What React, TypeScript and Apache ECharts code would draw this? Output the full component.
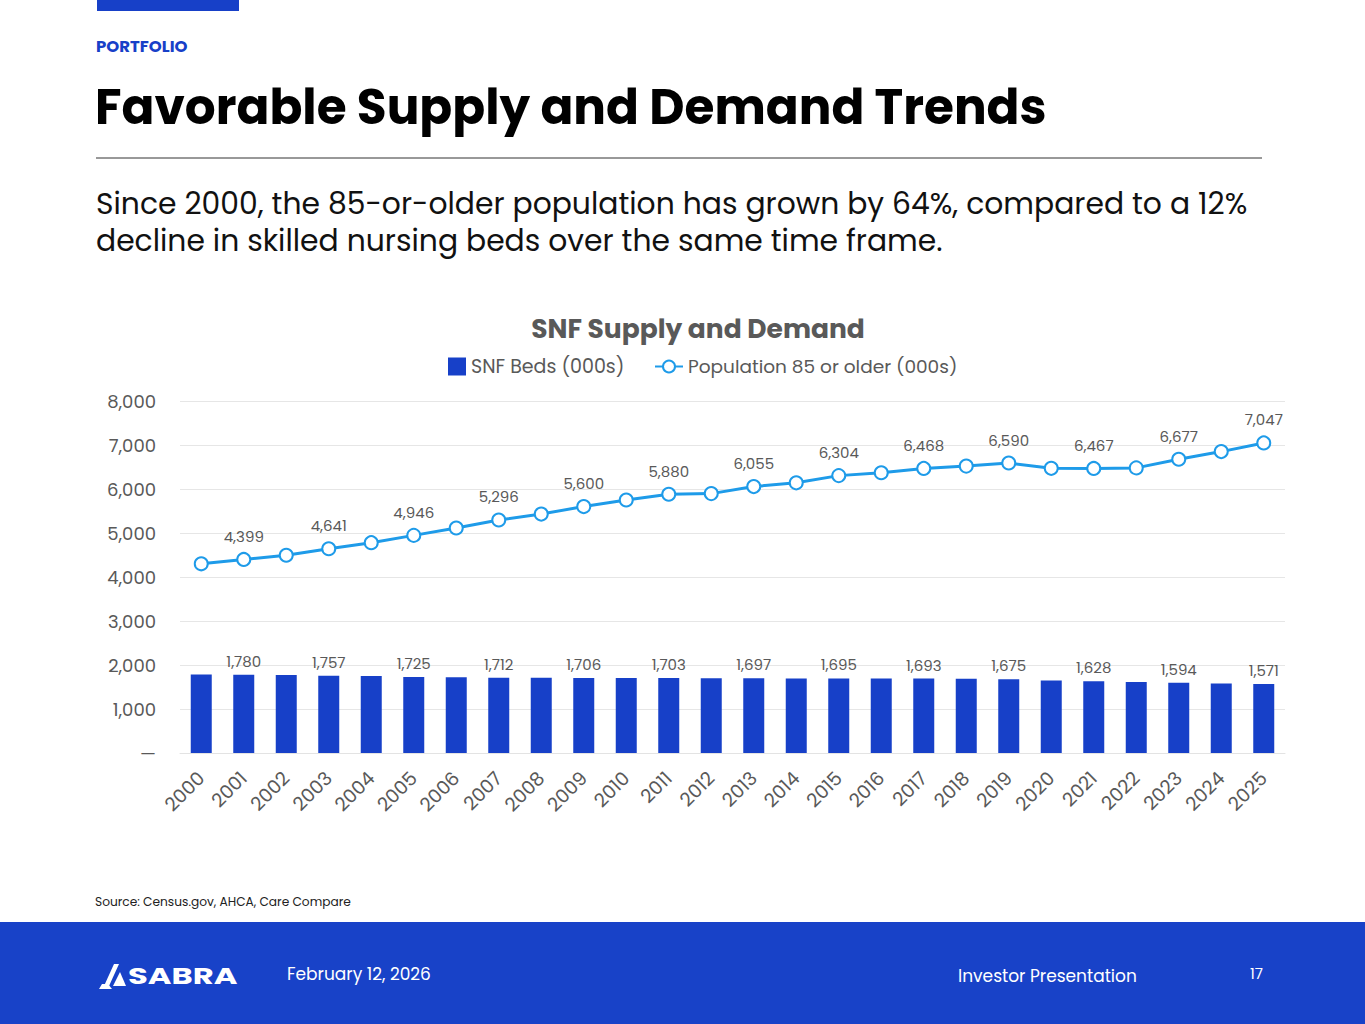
import React, { useEffect, useRef } from "react";
import * as echarts from "echarts";

const years = [
  "2000", "2001", "2002", "2003", "2004", "2005", "2006", "2007", "2008", "2009",
  "2010", "2011", "2012", "2013", "2014", "2015", "2016", "2017", "2018", "2019",
  "2020", "2021", "2022", "2023", "2024", "2025",
];
const snfBeds = [
  1785, 1780, 1775, 1757, 1750, 1725, 1720, 1712, 1710, 1706,
  1705, 1703, 1700, 1697, 1696, 1695, 1694, 1693, 1685, 1675,
  1650, 1628, 1615, 1594, 1580, 1571,
];
const population85 = [
  4300, 4399, 4495, 4641, 4780, 4946, 5114, 5296, 5430, 5600,
  5750, 5880, 5895, 6055, 6140, 6304, 6370, 6468, 6520, 6590,
  6470, 6467, 6480, 6677, 6850, 7047,
];
const yTicks = [0, 1000, 2000, 3000, 4000, 5000, 6000, 7000, 8000];

const FONT = "Poppins, Inter, 'Open Sans', sans-serif";
const BLUE = "#1740c8";
const LINE_BLUE = "#1e9be9";
const GREY = "#595959";

const fmt = (v: number) => v.toLocaleString("en-US");

export default function App() {
  const ref = useRef<HTMLDivElement>(null);
  useEffect(() => {
    if (!ref.current) return;
    const chart = echarts.init(ref.current, undefined, { renderer: "svg" });
    const option: any = {
      animation: false,
      backgroundColor: "#ffffff",
      textStyle: { fontFamily: FONT },
      title: {
        text: "SNF Supply and Demand",
        left: 693,
        top: 310,
        textAlign: "center",
        textStyle: { fontFamily: FONT, fontSize: 26.5, fontWeight: "bold", color: GREY },
      },
      legend: [
        {
          data: [{ name: "SNF Beds (000s)", icon: "rect" }],
          left: 443,
          top: 352,
          itemWidth: 18,
          itemHeight: 18,
          itemGap: 10,
          textStyle: { fontFamily: FONT, fontSize: 19, color: GREY },
        },
        {
          data: [{ name: "Population 85 or older (000s)" }],
          left: 649,
          top: 352,
          itemWidth: 28,
          itemHeight: 15,
          itemGap: 8,
          textStyle: { fontFamily: FONT, fontSize: 18.5, color: GREY },
        },
      ],
      grid: { left: 180, right: 80, top: 401, bottom: 271, containLabel: false },
      xAxis: {
        type: "category",
        data: years,
        axisLine: { show: true, lineStyle: { color: "#e3e3e3", width: 1 } },
        axisTick: { show: false },
        axisLabel: {
          rotate: 45,
          interval: 0,
          margin: 22,
          fontFamily: FONT,
          fontSize: 19,
          color: GREY,
        },
      },
      yAxis: {
        type: "value",
        min: yTicks[0],
        max: yTicks[yTicks.length - 1],
        interval: 1000,
        axisLine: { show: false },
        axisTick: { show: false },
        splitLine: { lineStyle: { color: "#e6e6e6", width: 1 } },
        axisLabel: {
          margin: 24,
          fontFamily: FONT,
          fontSize: 18,
          color: GREY,
          formatter: (v: number) => (v === 0 ? "—" : fmt(v)),
        },
      },
      series: [
        {
          name: "SNF Beds (000s)",
          type: "bar",
          data: snfBeds,
          barWidth: 21,
          itemStyle: { color: BLUE },
          label: {
            show: true,
            position: "top",
            distance: 6,
            fontFamily: FONT,
            fontSize: 15,
            color: GREY,
            formatter: (p: any) => (p.dataIndex % 2 === 1 ? fmt(p.value) : ""),
          },
        },
        {
          name: "Population 85 or older (000s)",
          type: "line",
          data: population85,
          symbol: "emptyCircle",
          symbolSize: 13,
          lineStyle: { color: LINE_BLUE, width: 3 },
          itemStyle: { color: LINE_BLUE, borderColor: LINE_BLUE, borderWidth: 3 },
          label: {
            show: true,
            position: "top",
            distance: 8,
            fontFamily: FONT,
            fontSize: 15,
            color: GREY,
            formatter: (p: any) => (p.dataIndex % 2 === 1 ? fmt(p.value) : ""),
          },
        },
      ],
      graphic: [
        { type: "rect", shape: { x: 97, y: 0, width: 142, height: 11 }, style: { fill: BLUE } },
        {
          type: "text",
          style: {
            text: "PORTFOLIO", x: 96, y: 46, fill: BLUE,
            font: `bold 16.5px ${FONT}`, textVerticalAlign: "middle",
          },
        },
        {
          type: "text",
          style: {
            text: "Favorable Supply and Demand Trends", x: 95, y: 107, fill: "#000",
            font: `bold 48.5px ${FONT}`, textVerticalAlign: "middle",
          },
        },
        { type: "line", shape: { x1: 96, y1: 158, x2: 1262, y2: 158 }, style: { stroke: "#333", lineWidth: 1 } },
        {
          type: "text",
          style: {
            text: "Since 2000, the 85-or-older population has grown by 64%, compared to a 12%",
            x: 96, y: 203, fill: "#111", font: `29.8px ${FONT}`, textVerticalAlign: "middle",
          },
        },
        {
          type: "text",
          style: {
            text: "decline in skilled nursing beds over the same time frame.",
            x: 96, y: 240, fill: "#111", font: `29.8px ${FONT}`, textVerticalAlign: "middle",
          },
        },
        {
          type: "text",
          style: {
            text: "Source: Census.gov, AHCA, Care Compare", x: 95, y: 901, fill: "#222",
            font: `12.2px ${FONT}`, textVerticalAlign: "middle",
          },
        },
        { type: "rect", shape: { x: 0, y: 922, width: 1365, height: 102 }, style: { fill: "#1842c8" } },
        {
          type: "polygon",
          shape: { points: [[104, 986], [114, 964], [119, 964], [109, 986]] },
          style: { fill: "#fff" },
        },
        {
          type: "polygon",
          shape: { points: [[113, 986], [120, 972], [126, 986]] },
          style: { fill: "#fff" },
        },
        {
          type: "polygon",
          shape: { points: [[99, 989], [112, 989], [108, 984], [102, 984]] },
          style: { fill: "#fff" },
        },
        {
          type: "text",
          x: 128,
          y: 976,
          scaleX: 1.4,
          style: {
            text: "SABRA", x: 0, y: 0, fill: "#fff",
            font: `bold 23px ${FONT}`, textVerticalAlign: "middle",
          },
        },
        {
          type: "text",
          style: {
            text: "February 12, 2026", x: 287, y: 974, fill: "#fff",
            font: `17px ${FONT}`, textVerticalAlign: "middle",
          },
        },
        {
          type: "text",
          style: {
            text: "Investor Presentation", x: 958, y: 976, fill: "#fff",
            font: `17px ${FONT}`, textVerticalAlign: "middle",
          },
        },
        {
          type: "text",
          style: {
            text: "17", x: 1250, y: 973, fill: "#fff",
            font: `15px ${FONT}`, textVerticalAlign: "middle",
          },
        },
      ],
    };
    chart.setOption(option);
    return () => chart.dispose();
  }, []);
  return (
    <div
      ref={ref}
      style={{ position: "absolute", left: 0, top: 0, width: 1365, height: 1024 }}
    />
  );
}
